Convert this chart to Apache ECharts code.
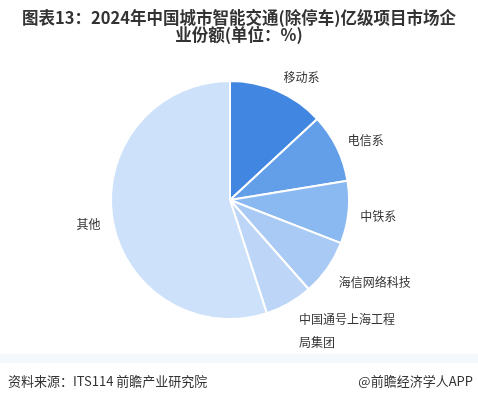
<!DOCTYPE html>
<html>
<head>
<meta charset="utf-8">
<title></title>
<style type="text/css">
  html, body { margin: 0; padding: 0; background: #fff; }
  #main { width: 478px; height: 402px; }
</style>
</head>
<body>
<div id="main"></div>
<script src="https://cdn.jsdelivr.net/npm/echarts@6/dist/echarts.min.js"></script>
<script type="text/javascript">
  // 企业份额 (%)
  var names = ['移动系', '电信系', '中铁系', '海信网络科技', '中国通号上海工程\n局集团', '其他'];
  var shares = [13.1, 9.3, 8.5, 7.6, 6.5, 55.0];
  var colors = ['#4186e0', '#639fe9', '#8ab8f0', '#a9caf4', '#bdd6f7', '#cde1fa'];
  // 标签微调
  var labelDx = [-3, -3, -3, -2, 0, 3];
  var labelDy = [-4, -3, 3, 9, 19, 4];

  var pieData = [];
  for (var i = 0; i < names.length; i++) {
    var item = { name: names[i], value: shares[i], itemStyle: { color: colors[i] } };
    if (i == 4) {
      item.label = { align: 'center', lineHeight: 23 };
    }
    pieData.push(item);
  }

  var myChart = echarts.init(document.getElementById('main'));
  var option = {
    backgroundColor: '#fff',
    animation: false,
    title: {
      text: '图表13：2024年中国城市智能交通(除停车)亿级项目市场企\n业份额(单位：%)',
      left: 'center',
      top: 4,
      textStyle: {
        fontFamily: 'Noto Sans CJK SC',
        fontSize: 16.5,
        fontWeight: 'bold',
        color: '#333',
        lineHeight: 17
      }
    },
    graphic: [
      {
        type: 'rect',
        shape: { x: 0, y: 354, width: 478, height: 9 },
        style: { fill: '#f4f8fd' }
      },
      {
        type: 'text',
        left: 8,
        top: 375,
        style: { text: '资料来源：ITS114 前瞻产业研究院', fill: '#333', fontSize: 13, fontFamily: 'Noto Sans CJK SC' }
      },
      {
        type: 'text',
        right: 5,
        top: 375,
        style: { text: '@前瞻经济学人APP', fill: '#333', fontSize: 13, fontFamily: 'Noto Sans CJK SC' }
      }
    ],
    series: [
      {
        type: 'pie',
        center: [230, 200],
        radius: 119,
        startAngle: 90,
        clockwise: true,
        avoidLabelOverlap: false,
        data: pieData,
        itemStyle: { borderColor: '#fff', borderWidth: 2 },
        label: {
          show: true,
          position: 'outside',
          color: '#333',
          fontSize: 12,
          fontFamily: 'Noto Sans CJK SC'
        },
        labelLine: { show: false, length: 10, length2: 0 },
        labelLayout: function (p) {
          return { dx: labelDx[p.dataIndex], dy: labelDy[p.dataIndex] };
        }
      }
    ]
  };
  option && myChart.setOption(option);
</script>
</body>
</html>
